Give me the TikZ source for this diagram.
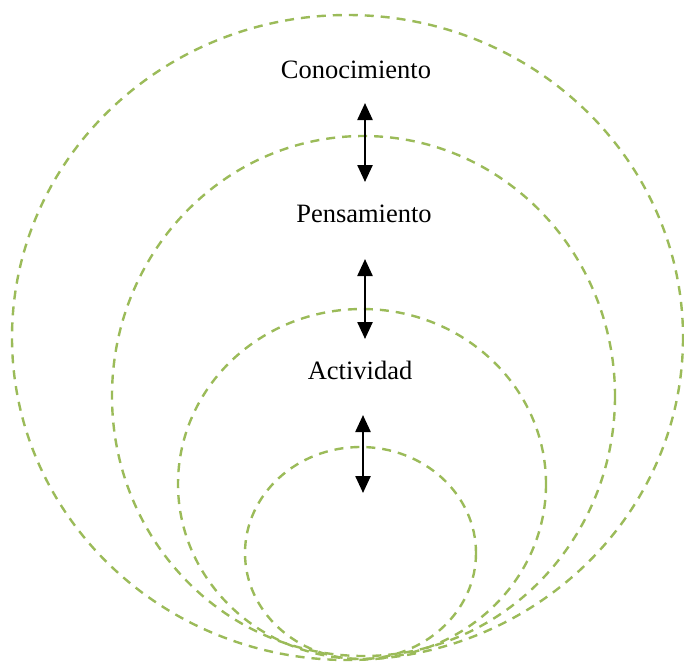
\documentclass[tikz,border=0pt]{standalone}
\usepackage{fontspec}
\setmainfont{Liberation Serif}
\usepackage{tikz}
\usetikzlibrary{arrows.meta,positioning}
\definecolor{ringgreen}{RGB}{155,187,89}

\begin{document}
\begin{tikzpicture}[
  x=1pt, y=-1pt,
  ring/.style={draw=ringgreen, line width=2.4pt, dash pattern=on 9pt off 7pt},
  lbl/.style={font=\fontsize{26.5}{30}\selectfont, inner sep=0pt},
  arr/.style={{Triangle[length=17pt,width=15pt]}-{Triangle[length=17pt,width=15pt]}, line width=2.4pt}
]
\useasboundingbox (0,0) rectangle (684,662);
% nested rings
\draw[ring] (347.5,337.5) ellipse (335.5 and 322.5);
\draw[ring] (363.5,396) ellipse (251.5 and 260);
\draw[ring] (362,484) ellipse (184 and 175);
\draw[ring] (360.5,553) ellipse (115.5 and 106);

\node[lbl] (cono) at (356,70) {Conocimiento};
\node[lbl] (pens) at (364,214) {Pensamiento};
\node[lbl] (acti) at (360,370) {Actividad};

\coordinate (a1) at (365,103); \coordinate (b1) at (365,182);
\coordinate (a2) at (365,259); \coordinate (b2) at (365,339);
\coordinate (a3) at (363,415); \coordinate (b3) at (363,493);
\draw[arr] (a1)--(b1); \draw[arr] (a2)--(b2); \draw[arr] (a3)--(b3);
\end{tikzpicture}
\end{document}
